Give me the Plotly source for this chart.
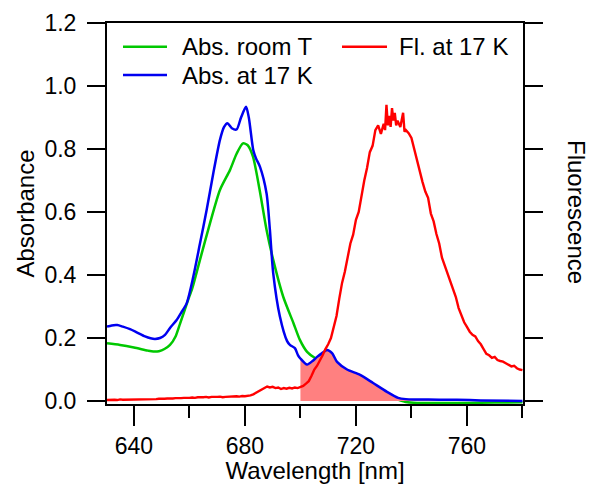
import plotly.graph_objects as go

# ---------------- data ----------------
green_wl = [630.3, 635, 640, 645, 647, 649, 651, 653, 655, 656.6, 659.5, 661.1, 663.8, 667.4,
            671, 674.6, 677, 679.3, 681, 682.9, 685.3, 687.8, 690.2, 693.8, 697.5, 699.8,
            702.4, 705, 708.1, 712, 716, 720, 725, 730, 735, 738, 742, 750, 760, 770, 780]
green_abs = [0.183, 0.178, 0.170, 0.160, 0.157, 0.158, 0.165, 0.178, 0.205, 0.245, 0.32, 0.36,
             0.448, 0.564, 0.67, 0.733, 0.785, 0.818, 0.812, 0.776, 0.67, 0.543, 0.448, 0.331,
             0.247, 0.194, 0.156, 0.138, 0.124, 0.10, 0.08, 0.06, 0.04, 0.02, 0.005, -0.003,
             -0.006, -0.006, -0.006, -0.005, -0.004]

blue_wl = [630.3, 632, 634, 636, 638.6, 641, 644, 646, 647.6, 649.4, 651.2, 653, 655.4, 657,
           659, 661.4, 663.8, 666.2, 668.6, 671, 672.5, 673.7, 675.3, 677, 678.6, 680.4, 681.4,
           683, 684, 685.4, 687.8, 689, 690.2, 692.6, 695.2, 696.2, 698, 699.1, 700, 702.4,
           704.5, 706, 707.8, 709.6, 711.4, 713.2, 716.8, 721.5, 726.2, 731.2, 735.2, 738,
           742, 750, 756.4, 765, 780]
blue_abs = [0.236, 0.240, 0.241, 0.236, 0.228, 0.218, 0.205, 0.199, 0.197, 0.200, 0.210, 0.232,
            0.257, 0.28, 0.31, 0.395, 0.50, 0.606, 0.723, 0.829, 0.87, 0.882, 0.866, 0.862, 0.90,
            0.934, 0.90, 0.797, 0.77, 0.744, 0.659, 0.543, 0.405, 0.268, 0.19, 0.178, 0.168,
            0.146, 0.135, 0.116, 0.128, 0.14, 0.152, 0.162, 0.152, 0.124, 0.10, 0.083, 0.057,
            0.029, 0.01, 0.006, 0.005, 0.004, 0.004, 0.002, 0.0]

red_wl = [630, 631, 632, 633, 634, 635, 636, 637, 638, 639, 640, 641, 642, 643, 644, 645, 646,
          647, 648, 649, 650, 651, 652, 653, 654, 655, 656, 657, 658, 659, 660, 661, 662, 663,
          664, 665, 666, 667, 668, 669, 670, 671, 672, 673, 674, 675, 676, 677, 678, 679, 680,
          681, 682, 683, 684, 685, 686, 687, 688, 689, 690, 691, 692, 693, 694, 695, 696, 697,
          698, 699, 700, 701, 702, 703, 704, 705, 706, 707, 708, 709, 710, 711, 712, 713, 714,
          715, 716, 717, 718, 719, 720, 721, 722, 723, 724, 725, 726, 727, 728, 729, 730, 730.5,
          731, 731.5, 732, 732.5, 733, 733.5, 734, 734.5, 735, 736, 737, 737.5, 738, 739, 740,
          741, 742, 743, 744, 745, 746, 747, 748, 749, 750, 751, 752, 753, 754, 755, 756, 757,
          758, 759, 760, 761, 762, 763, 764, 765, 766, 767, 768, 769, 770, 771, 772, 773, 774,
          775, 776, 777, 778, 779, 780]
red_fl = [0.003, 0.004, 0.003, 0.004, 0.003, 0.005, 0.004, 0.004, 0.005, 0.004, 0.005, 0.006,
          0.005, 0.005, 0.006, 0.005, 0.006, 0.005, 0.006, 0.007, 0.006, 0.007, 0.008, 0.007,
          0.008, 0.009, 0.008, 0.009, 0.010, 0.009, 0.010, 0.011, 0.010, 0.012, 0.011, 0.012,
          0.013, 0.011, 0.013, 0.012, 0.013, 0.014, 0.012, 0.013, 0.014, 0.013, 0.014, 0.015,
          0.014, 0.016, 0.015, 0.016, 0.018, 0.021, 0.026, 0.030, 0.036, 0.041, 0.046, 0.043,
          0.045, 0.041, 0.043, 0.038, 0.041, 0.039, 0.042, 0.040, 0.043, 0.041, 0.045, 0.048,
          0.055, 0.063, 0.080, 0.100, 0.112, 0.128, 0.145, 0.165, 0.180, 0.200, 0.232, 0.270,
          0.325, 0.375, 0.410, 0.462, 0.500, 0.528, 0.575, 0.600, 0.655, 0.700, 0.740, 0.790,
          0.810, 0.860, 0.875, 0.848, 0.880, 0.860, 0.940, 0.875, 0.905, 0.870, 0.930, 0.890,
          0.915, 0.875, 0.890, 0.870, 0.915, 0.855, 0.860, 0.850, 0.835, 0.800, 0.760, 0.730,
          0.695, 0.665, 0.645, 0.595, 0.570, 0.530, 0.500, 0.455, 0.430, 0.400, 0.375, 0.355,
          0.330, 0.295, 0.270, 0.250, 0.235, 0.220, 0.210, 0.205, 0.190, 0.180, 0.165, 0.150,
          0.145, 0.137, 0.140, 0.130, 0.127, 0.125, 0.120, 0.115, 0.110, 0.112, 0.104, 0.100,
          0.098]

fill_start = 700  # shaded overlap region starts here

names = ["Abs. room T", "Abs. at 17 K", "Fl. at 17 K"]
colors = ["#00C800", "#0000F0", "#FF0000"]

FONT = "Arial, Liberation Sans, sans-serif"

fig = go.Figure()

fig.add_trace(go.Scatter(x=green_wl, y=green_abs, mode="lines", name=names[0],
                         line=dict(color=colors[0], width=2.5, shape="spline", smoothing=0.7),
                         showlegend=False))

fw = [w for w in blue_wl if w >= fill_start]
fa = [a for w, a in zip(blue_wl, blue_abs) if w >= fill_start]
fig.add_trace(go.Scatter(x=fw, y=fa, mode="none", fill="tozeroy", fillcolor="#FF8080",
                         line=dict(shape="spline", smoothing=0.7), showlegend=False))

fig.add_trace(go.Scatter(x=blue_wl, y=blue_abs, mode="lines", name=names[1],
                         line=dict(color=colors[1], width=2.5, shape="spline", smoothing=0.7),
                         showlegend=False))

fig.add_trace(go.Scatter(x=red_wl, y=red_fl, mode="lines", name=names[2], yaxis="y2",
                         line=dict(color=colors[2], width=2.4), showlegend=False))

# page offset of the figure inside the browser page (default body margin)
OFF = 8
# custom legend (page pixel layout: plot area x 107..523, y 23..404)
def px_x(p):
    return (p - 107) / 416.0

def px_y(p):
    return (404 - p) / 381.0

legend_items = [(names[0], colors[0], 123, 167, 180, 46.7),
                (names[1], colors[1], 123, 167, 180, 75.0),
                (names[2], colors[2], 342, 387, 397, 46.7)]
for label, col, x0, x1, xt, yy in legend_items:
    fig.add_shape(type="line", xref="paper", yref="paper", x0=px_x(x0), x1=px_x(x1),
                  y0=px_y(yy), y1=px_y(yy), line=dict(color=col, width=2.5))
    fig.add_annotation(xref="paper", yref="paper", x=px_x(xt), y=px_y(yy), text=label,
                       showarrow=False, xanchor="left", yanchor="middle",
                       font=dict(family=FONT, size=24, color="black"))

fig.add_annotation(xref="paper", yref="paper", x=px_x(577), y=px_y(212), text="Fluorescence",
                   textangle=90, showarrow=False, xanchor="center", yanchor="middle",
                   font=dict(family=FONT, size=24, color="black"))

yrange = [-0.0095, 1.2]

fig.update_layout(
    width=596 - OFF, height=484 - OFF,
    margin=dict(l=107 - OFF, r=73, t=23 - OFF, b=80, autoexpand=False),
    paper_bgcolor="white", plot_bgcolor="white",
    font=dict(family=FONT, color="black"),
    xaxis=dict(range=[630.3, 780.2], tickmode="linear", tick0=640, dtick=40,
               ticks="outside", ticklen=20, tickwidth=2, tickcolor="black",
               showline=True, linewidth=2, linecolor="black", mirror=True, automargin=False,
               showgrid=False, zeroline=False, tickfont=dict(size=23),
               minor=dict(tick0=640, dtick=20, ticks="outside", ticklen=12, tickwidth=2,
                          tickcolor="black", showgrid=False),
               title=dict(text="Wavelength [nm]", font=dict(size=24), standoff=0)),
    yaxis=dict(range=yrange, tickmode="linear", tick0=0, dtick=0.2, tickformat=".1f",
               ticks="outside", ticklen=18, tickwidth=2, tickcolor="black", automargin=False,
               showline=True, linewidth=2, linecolor="black", mirror="ticks",
               ticklabelstandoff=6,
               showgrid=False, zeroline=False, tickfont=dict(size=23),
               title=dict(text="Absorbance", font=dict(size=24), standoff=3)),
    yaxis2=dict(range=yrange, overlaying="y", side="right", showline=False, automargin=False,
                showticklabels=False, ticks="", showgrid=False, zeroline=False),
    showlegend=False,
)

fig.write_html("out.html")
